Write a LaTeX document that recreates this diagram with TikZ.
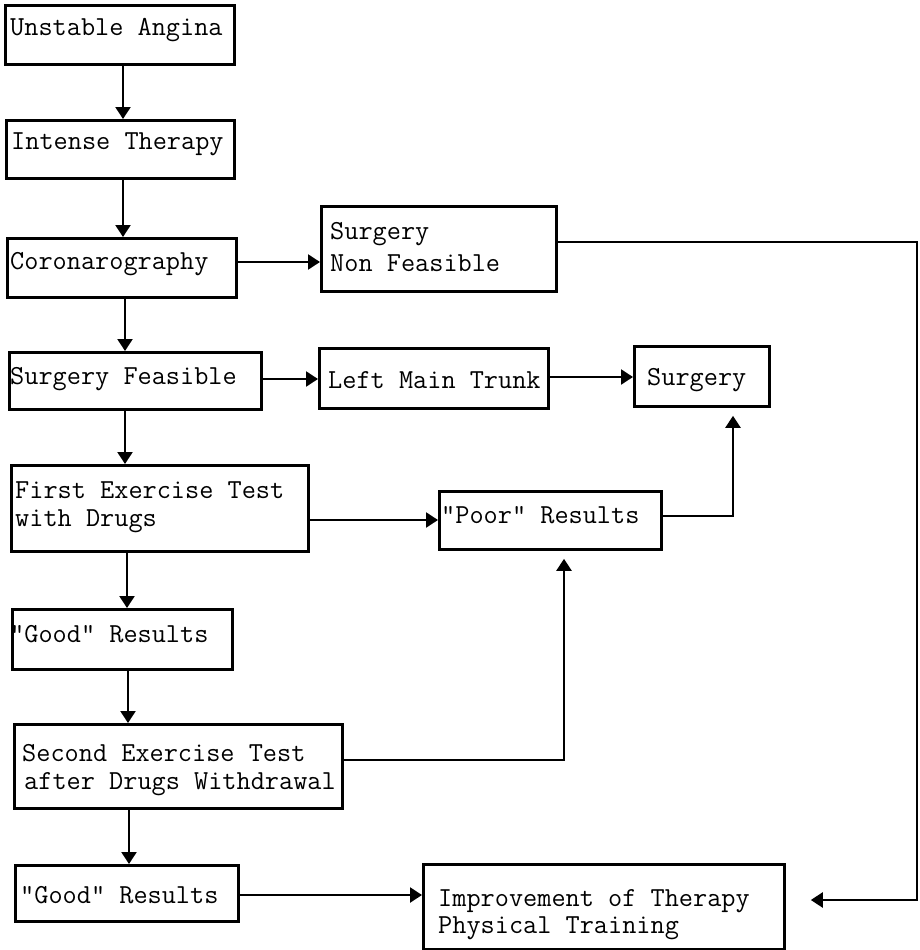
\documentclass[tikz,border=0pt]{standalone}
\usepackage{fontspec}
\usetikzlibrary{arrows.meta}
\begin{document}
\begin{tikzpicture}[x=1pt,y=-1pt,
  box/.style={draw, line width=2.8pt, rectangle, inner sep=0pt, anchor=north west},
  txt/.style={anchor=base west, inner sep=0pt, font=\ttfamily\fontsize{27.5}{31}\selectfont},
  arr/.style={line width=2.3pt, -{Triangle[length=12pt,width=15pt]}},
  lnk/.style={line width=2.3pt}]
\useasboundingbox (0,0) rectangle (920,950);
% boxes
\node[box, minimum width=229, minimum height=59] (ua) at (4,4) {};
\node[box, minimum width=228, minimum height=58] (it) at (5,119) {};
\node[box, minimum width=229, minimum height=59] (coro) at (6,237) {};
\node[box, minimum width=235, minimum height=85] (snf) at (320,205) {};
\node[box, minimum width=252, minimum height=57] (sf) at (8,351) {};
\node[box, minimum width=229, minimum height=60] (lmt) at (318,347) {};
\node[box, minimum width=135, minimum height=60] (surg) at (633,345) {};
\node[box, minimum width=297, minimum height=86] (fet) at (10,464) {};
\node[box, minimum width=222, minimum height=58] (poor) at (438,490) {};
\node[box, minimum width=220, minimum height=60] (good1) at (11,608) {};
\node[box, minimum width=328, minimum height=84] (set) at (13,723) {};
\node[box, minimum width=223, minimum height=56] (good2) at (14,864) {};
\node[box, minimum width=361, minimum height=85] (impr) at (422,863) {};
% texts
\node[txt] (tua) at (10,36) {Unstable Angina};
\node[txt] (tit) at (11,149) {Intense Therapy};
\node[txt] (tcoro) at (10,269) {Coronarography};
\node[txt] (tsnf1) at (330,239) {Surgery};
\node[txt] (tsnf2) at (330,271) {Non Feasible};
\node[txt] (tsf) at (10,384) {Surgery Feasible};
\node[txt] (tlmt) at (328,388) {Left Main Trunk};
\node[txt] (tsurg) at (647,385) {Surgery};
\node[txt] (tfet1) at (15,498) {First Exercise Test};
\node[txt] (tfet2) at (15,526) {with Drugs};
\node[txt] (tpoor) at (441,523) {"Poor" Results};
\node[txt] (tgood1) at (10,642) {"Good" Results};
\node[txt] (tset1) at (22,761) {Second Exercise Test};
\node[txt] (tset2) at (24,789) {after Drugs Withdrawal};
\node[txt] (tgood2) at (20,903) {"Good" Results};
\node[txt] (timpr1) at (438,906) {Improvement of Therapy};
\node[txt] (timpr2) at (438,933) {Physical Training};
% guide coordinates
\coordinate (xa) at (123,0);
\coordinate (xb) at (125,0);
\coordinate (xc) at (127,0);
\coordinate (xd) at (128,0);
\coordinate (xe) at (129,0);
\coordinate (xs) at (733,0);
\coordinate (xp) at (564,0);
\coordinate (y1) at (0,262);
\coordinate (y2) at (0,379);
\coordinate (y3) at (0,377);
\coordinate (y4) at (0,520);
\coordinate (y5) at (0,516);
\coordinate (y6) at (0,760);
\coordinate (y7) at (0,895);
\coordinate (y8) at (0,242);
\coordinate (y9) at (0,900);
\coordinate (cr1) at (917,242);
\coordinate (cr2) at (917,900);
\coordinate (cp1) at (733,516);
\coordinate (cp2) at (564,760);
% vertical chain
\draw[arr] (ua.south -| xa) -- (it.north -| xa);
\draw[arr] (it.south -| xa) -- (coro.north -| xa);
\draw[arr] (coro.south -| xb) -- (sf.north -| xb);
\draw[arr] (sf.south -| xb) -- (fet.north -| xb);
\draw[arr] (fet.south -| xc) -- (good1.north -| xc);
\draw[arr] (good1.south -| xd) -- (set.north -| xd);
\draw[arr] (set.south -| xe) -- (good2.north -| xe);
% horizontal
\draw[arr] (coro.east |- y1) -- (snf.west |- y1);
\draw[arr] (sf.east |- y2) -- (lmt.west |- y2);
\draw[arr] (lmt.east |- y3) -- (surg.west |- y3);
\draw[arr] (fet.east |- y4) -- (poor.west |- y4);
\draw[arr] (good2.east |- y7) -- (impr.west |- y7);
% feedback
\draw[arr, shorten >=8pt] (poor.east |- y5) -- (cp1) -- (surg.south -| xs);
\draw[arr, shorten >=8pt] (set.east |- y6) -- (cp2) -- (poor.south -| xp);
\draw[arr, shorten >=25pt] (snf.east |- y8) -- (cr1) -- (cr2) -- (impr.east |- y9);
\end{tikzpicture}
\end{document}
